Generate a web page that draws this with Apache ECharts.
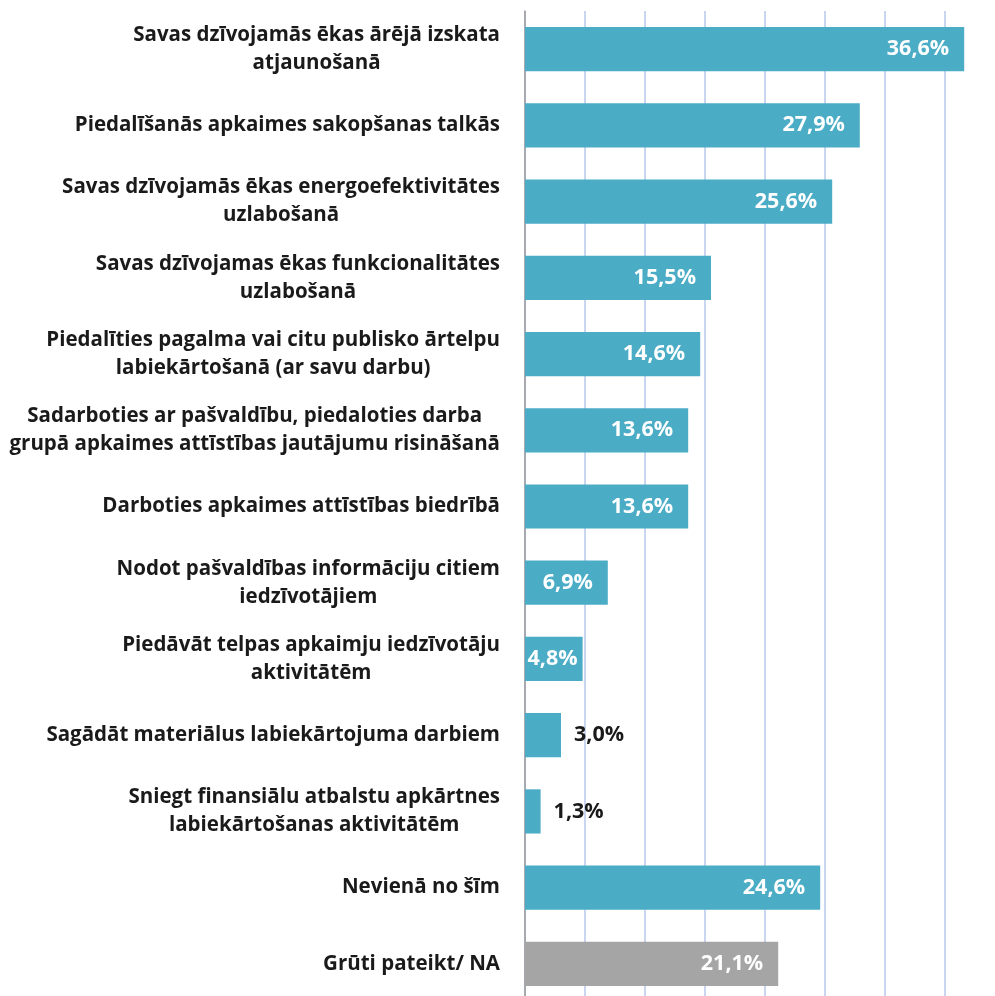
<!DOCTYPE html>
<html>
<head>
<meta charset="utf-8">
<script src="https://cdn.jsdelivr.net/npm/echarts@6/dist/echarts.min.js"></script>
<style>html,body{margin:0;padding:0;background:#fff;}#c{width:995px;height:996px;}</style>
</head>
<body>
<div id="c"></div>
<script>
const categories = [
  "Savas dzīvojamās ēkas ārējā izskata\natjaunošanā",
  "Piedalīšanās apkaimes sakopšanas talkās",
  "Savas dzīvojamās ēkas energoefektivitātes\nuzlabošanā",
  "Savas dzīvojamas ēkas funkcionalitātes\nuzlabošanā",
  "Piedalīties pagalma vai citu publisko ārtelpu\nlabiekārtošanā (ar savu darbu)",
  "Sadarboties ar pašvaldību, piedaloties darba\ngrupā apkaimes attīstības jautājumu risināšanā",
  "Darboties apkaimes attīstības biedrībā",
  "Nodot pašvaldības informāciju citiem\niedzīvotājiem",
  "Piedāvāt telpas apkaimju iedzīvotāju\naktivitātēm",
  "Sagādāt materiālus labiekārtojuma darbiem",
  "Sniegt finansiālu atbalstu apkārtnes\nlabiekārtošanas aktivitātēm",
  "Nevienā no šīm",
  "Grūti pateikt/ NA"
];
const values = [36.6, 27.9, 25.6, 15.5, 14.6, 13.6, 13.6, 6.9, 4.8, 3.0, 1.3, 24.6, 21.1];
const axisMin = 0, axisMax = 40, axisInterval = 5;

const FONT = "'Open Sans', sans-serif";
const mainColor = '#4bacc6';
const grayColor = '#a5a5a5';

const data = values.map((v, i) => {
  const item = { value: v, itemStyle: { color: i === values.length - 1 ? grayColor : mainColor } };
  if (v < 4) {
    item.label = { position: 'right', distance: 13, color: '#1a1a1a' };
  } else if (v < 6) {
    item.label = { position: 'insideRight', distance: 5, color: '#fff' };
  }
  return item;
});

const chart = echarts.init(document.getElementById('c'));
chart.setOption({
  animation: false,
  grid: { left: 525, top: 11, width: 480, height: 991, containLabel: false, outerBoundsMode: 'none' },
  xAxis: {
    type: 'value', min: axisMin, max: axisMax, interval: axisInterval,
    axisLabel: { show: false }, axisTick: { show: false },
    axisLine: { show: false },
    splitLine: { show: true, lineStyle: { color: '#b9c8ea', width: 1.5 } }
  },
  yAxis: {
    type: 'category', data: categories, inverse: true,
    axisTick: { show: false },
    axisLine: { show: true, lineStyle: { color: '#9a9a9a', width: 1.5 } },
    axisLabel: {
      margin: 25,
      formatter: (s) => s.split('\n').map(l => '{c|' + l + '}').join('\n'),
      rich: { c: { align: 'center', fontFamily: FONT, fontWeight: 'bold', fontSize: 20.5, lineHeight: 28, color: '#1a1a1a' } }
    }
  },
  series: [{
    type: 'bar', data: data, barCategoryGap: '42%',
    label: {
      show: true, position: 'insideRight', distance: 15, color: '#fff',
      fontFamily: FONT, fontWeight: 'bold', fontSize: 21.5,
      formatter: (p) => p.value.toFixed(1).replace('.', ',') + '%'
    }
  }]
});
</script>
</body>
</html>
